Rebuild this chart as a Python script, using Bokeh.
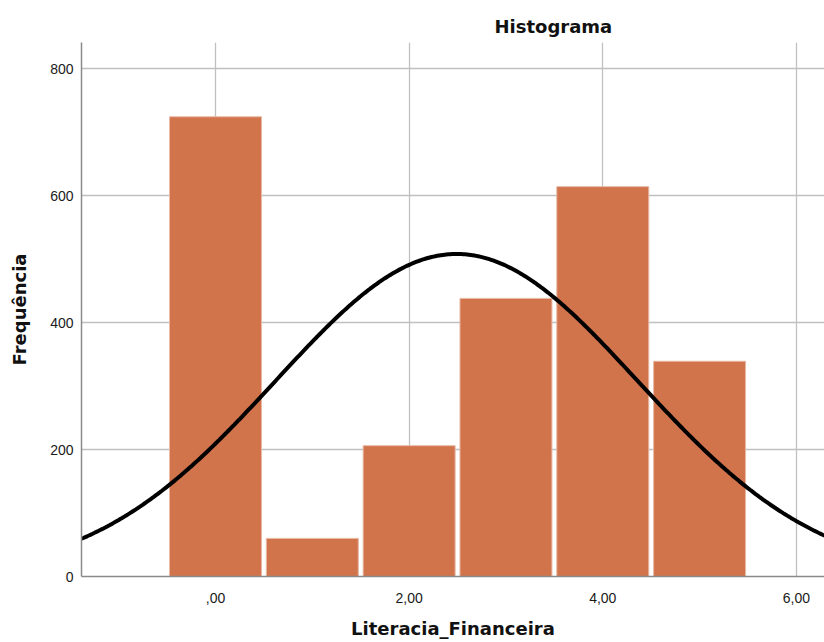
import numpy as np
from bokeh.plotting import figure
from bokeh.models import FixedTicker
from bokeh.embed import file_html
from bokeh.resources import INLINE

# Data
bin_centers = [0, 1, 2, 3, 4, 5]
frequencies = [724, 60, 206, 438, 614, 339]
x_ticks = [0, 2, 4, 6]
x_tick_labels = [",00", "2,00", "4,00", "6,00"]
y_ticks = [0, 200, 400, 600, 800]
y_tick_labels = ["0", "200", "400", "600", "800"]
mean_value = 2.49
std_value = 1.87
bin_width = 1.0

FONT = "Liberation Sans"
BOLD_FONT = "DejaVu Sans"
BAR = "#d1734b"

p = figure(width=824, height=642, output_backend="svg", toolbar_location=None,
           x_range=(-1.384, 6.29), y_range=(0, 841),
           min_border_left=81, min_border_right=0, min_border_top=42, min_border_bottom=66)
p.outline_line_color = None
p.background_fill_color = "white"
p.border_fill_color = "white"

# grid
p.xgrid.ticker = FixedTicker(ticks=x_ticks)
p.ygrid.ticker = FixedTicker(ticks=y_ticks)
for g in (p.xgrid, p.ygrid):
    g.grid_line_color = "#c0c0c0"
    g.grid_line_width = 1.3

# bars
p.vbar(x=bin_centers, top=frequencies, width=0.95, bottom=0,
       fill_color=BAR, line_color="#e8b9a4", line_width=1)

# normal curve
n_total = sum(frequencies)
xs = np.linspace(-1.384, 6.29, 400)
ys = n_total * bin_width / (std_value * np.sqrt(2 * np.pi)) * np.exp(-0.5 * ((xs - mean_value) / std_value) ** 2)
p.line(xs, ys, line_color="black", line_width=4)

# axes
p.xaxis.ticker = FixedTicker(ticks=x_ticks)
p.xaxis.major_label_overrides = {t: l for t, l in zip(x_ticks, x_tick_labels)}
p.yaxis.ticker = FixedTicker(ticks=y_ticks)
p.yaxis.major_label_overrides = {t: l for t, l in zip(y_ticks, y_tick_labels)}
for ax in (p.xaxis[0], p.yaxis[0]):
    ax.axis_line_color = "#8a8a8a"
    ax.axis_line_width = 1.5
    ax.major_tick_out = 0
    ax.major_tick_in = 0
    ax.minor_tick_out = 0
    ax.minor_tick_in = 0
    ax.major_label_text_font = FONT
    ax.major_label_text_font_size = "14px"
    ax.major_label_text_color = "#1a1a1a"
    ax.axis_label_text_font = BOLD_FONT
    ax.axis_label_text_font_style = "bold"
    ax.axis_label_text_font_size = "18px"
    ax.axis_label_text_color = "#111111"
p.xaxis.axis_label = "Literacia_Financeira"
p.yaxis.axis_label = "Frequência"
p.xaxis.major_label_standoff = 16
p.xaxis.axis_label_standoff = 12
p.yaxis.major_label_standoff = 8
p.yaxis.axis_label_standoff = 17

# title
p.title.text = "Histograma"
p.title.text_font = BOLD_FONT
p.title.text_font_size = "18px"
p.title.text_font_style = "bold"
p.title.text_color = "#111111"
p.title.align = "left"
p.title.offset = 413
p.title.standoff = 11

open("out.html", "w").write(file_html(p, INLINE))
